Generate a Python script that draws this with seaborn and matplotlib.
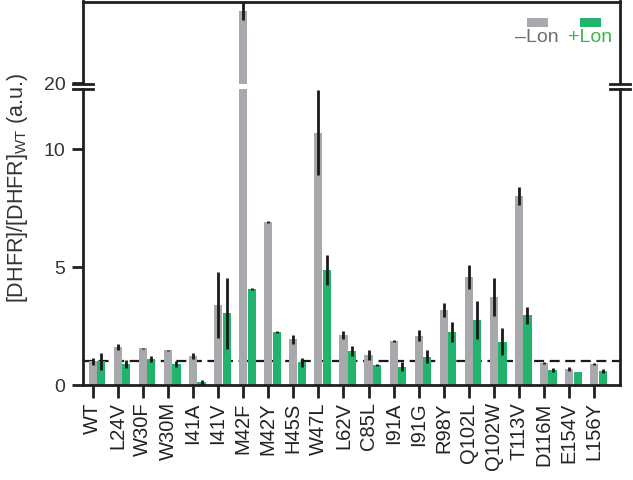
import numpy as np
import pandas as pd
import matplotlib
matplotlib.use("Agg")
import matplotlib.pyplot as plt
from matplotlib.lines import Line2D
from matplotlib.patches import Rectangle
import seaborn as sns

# ---------------- data ----------------
mutants = ["WT", "L24V", "W30F", "W30M", "I41A", "I41V", "M42F", "M42Y", "H45S",
           "W47L", "L62V", "C85L", "I91A", "I91G", "R98Y", "Q102L", "Q102W",
           "T113V", "D116M", "E154V", "L156Y"]
minus_lon = [1.00, 1.60, 1.55, 1.47, 1.24, 3.39, 23.07, 6.92, 1.94,
             10.70, 2.13, 1.27, 1.88, 2.10, 3.18, 4.58, 3.73,
             8.02, 0.92, 0.68, 0.89]
minus_err = [0.15, 0.12, 0.03, 0.02, 0.12, 1.40, 0.38, 0.03, 0.18,
             1.80, 0.17, 0.20, 0.05, 0.22, 0.31, 0.52, 0.81,
             0.37, 0.04, 0.08, 0.04]
plus_lon = [1.00, 0.89, 1.09, 0.88, 0.11, 3.04, 4.07, 2.26, 0.96,
            4.87, 1.44, 0.85, 0.78, 1.20, 2.25, 2.75, 1.84,
            2.95, 0.64, 0.54, 0.61]
plus_err = [0.35, 0.18, 0.12, 0.12, 0.10, 1.52, 0.05, 0.04, 0.18,
            0.64, 0.20, 0.03, 0.20, 0.28, 0.42, 0.80, 0.58,
            0.38, 0.10, 0.00, 0.09]
conditions = ["\u2013Lon", "+Lon"]
wt_level = 1.0

GRAY = "#a7a9ac"
GREEN = "#22b46c"
INK = "#231f20"

df = pd.DataFrame({
    "mutant": mutants * 2,
    "cond": [conditions[0]] * len(mutants) + [conditions[1]] * len(mutants),
    "value": minus_lon + plus_lon,
})
errs = {conditions[0]: minus_err, conditions[1]: plus_err}

plt.rcParams["font.family"] = ["Liberation Sans", "DejaVu Sans"]

W, H = 633, 480
fig = plt.figure(figsize=(W / 100, H / 100), dpi=100)

def fr(x0, y_top, x1, y_bot):
    return [x0 / W, 1 - y_bot / H, (x1 - x0) / W, (y_bot - y_top) / H]

ax_hi = fig.add_axes(fr(82.7, 1.5, 620, 83.5))
ax_lo = fig.add_axes(fr(82.7, 88.5, 620, 385))

for ax in (ax_lo, ax_hi):
    sns.barplot(data=df, x="mutant", y="value", hue="cond", order=mutants,
                hue_order=conditions, palette=[GRAY, GREEN], saturation=1,
                width=0.68, gap=0.04, errorbar=None, legend=False, ax=ax,
                zorder=2)
    for cont, cond in zip(ax.containers, conditions):
        xs = [p.get_x() + p.get_width() / 2 for p in cont.patches]
        hs = [p.get_height() for p in cont.patches]
        ax.errorbar(xs, hs, yerr=errs[cond], fmt="none", ecolor="#1a1a1a",
                    elinewidth=2.0, capsize=0, zorder=3)
    ax.axhline(wt_level, color="#1a1a1a", lw=1.6, ls=(0, (4.5, 2.5)), zorder=1)
    ax.set_xlim(-0.57, 20.86)
    ax.set_xlabel("")
    ax.set_ylabel("")
    for s in ax.spines.values():
        s.set_linewidth(2.0)
        s.set_color(INK)

ax_lo.set_ylim(0, 12.58)
ax_hi.set_ylim(20, 23.48)

# ticks at the -Lon bar centres
gray_centres = [p.get_x() + p.get_width() / 2 for p in ax_lo.containers[0].patches]
ax_lo.set_xticks(gray_centres)
ax_lo.set_xticklabels(mutants, rotation=90, fontsize=14.5, color="#222222")
ax_lo.tick_params(axis="x", length=9.5, width=2.0, color=INK, pad=3)
ax_lo.set_yticks([0, 5, 10])
ax_lo.set_yticklabels(["0", "5", "10"], fontsize=14, color="#333333")
ax_lo.tick_params(axis="y", length=8, width=2.0, color=INK, pad=4.5)
ax_lo.spines["top"].set_visible(False)

ax_hi.set_xticks([])
ax_hi.set_yticks([20])
ax_hi.set_yticklabels(["20"], fontsize=14, color="#333333")
ax_hi.tick_params(axis="y", length=8, width=2.0, color=INK, pad=4.5)
ax_hi.spines["bottom"].set_visible(False)

# break marks
for ypx in (83.5, 88.5):
    for xc in (82.7, 620):
        fig.add_artist(Line2D([(xc - 10) / W, (xc + 10) / W], [1 - ypx / H] * 2,
                              transform=fig.transFigure, color=INK, lw=2.0))

fig.text(18 / W, 1 - 188 / H, r"[DHFR]/[DHFR]$_{\mathregular{WT}}$ (a.u.)",
         rotation=90, ha="center", va="center", fontsize=15.5, color="#333333")

# legend (colour swatches above labels)
for cx, col, tcol, lab in ((537, GRAY, "#6d6e71", conditions[0]),
                           (590, GREEN, "#3cb54a", conditions[1])):
    fig.add_artist(Rectangle(((cx - 10.5) / W, 1 - 27.3 / H), 21 / W, 9 / H,
                             transform=fig.transFigure, color=col, lw=0))
    fig.text(cx / W, 1 - 37.5 / H, lab, ha="center", va="center", fontsize=14,
             color=tcol)

fig.savefig("out.png", dpi=100)
